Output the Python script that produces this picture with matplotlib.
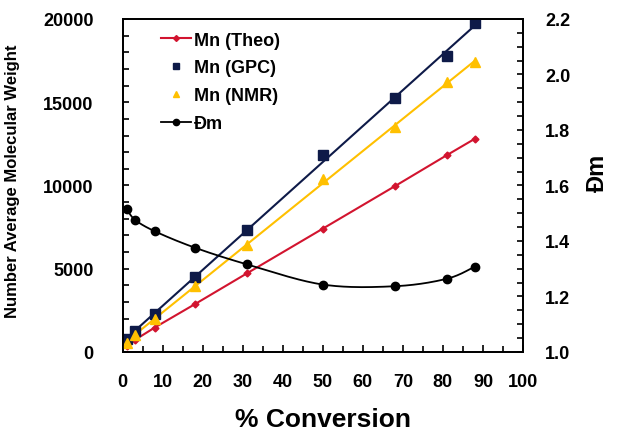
import matplotlib
matplotlib.use("Agg")
import matplotlib.pyplot as plt
from matplotlib.ticker import MultipleLocator
from matplotlib.lines import Line2D
import numpy as np

plt.rcParams['font.family'] = ['Liberation Sans', 'DejaVu Sans']
plt.rcParams['font.weight'] = 'bold'

conversion = [1, 3, 8, 18, 31, 50, 68, 81, 88]
mn_theo = [380, 720, 1470, 2870, 4720, 7410, 9960, 11825, 12810]
mn_gpc = [765, 1265, 2270, 4520, 7310, 11825, 15240, 17750, 19760]
mn_nmr = [560, 1020, 2010, 3980, 6400, 10420, 13510, 16190, 17390]
dm = [1.516, 1.477, 1.435, 1.376, 1.316, 1.243, 1.237, 1.264, 1.308]

RED = '#D2142F'
NAVY = '#0E1A48'
GOLD = '#FFC000'

fig = plt.figure(figsize=(6.2, 4.31), dpi=100)
ax = fig.add_axes([0.198, 0.181, 0.6455, 0.7726])
ax2 = ax.twinx()

x = np.array(conversion, dtype=float)

# Theo: connected points
ax.plot(x, mn_theo, color=RED, lw=1.5, marker='D', ms=3.5, zorder=3)

# GPC and NMR: markers with linear trendlines
for vals, col, mk, ms in [(mn_gpc, NAVY, 's', 6.5), (mn_nmr, GOLD, '^', 7)]:
    k, b = np.polyfit(x, vals, 1)
    xs = np.array([x[0], x[-1]])
    ax.plot(xs, k * xs + b, color=col, lw=1.5, zorder=2)
    ax.plot(x, vals, ls='none', color=col, marker=mk, ms=ms, zorder=4)

# Dm: smoothed line (spreadsheet-style smoothing)
y = np.array(dm, dtype=float)
px = np.concatenate([[x[0]], x, [x[-1]]])
py = np.concatenate([[y[0]], y, [y[-1]]])
cx, cy = [], []
t = np.linspace(0, 1, 30)
for i in range(1, len(px) - 2):
    p0 = np.array([px[i], py[i]])
    p3 = np.array([px[i + 1], py[i + 1]])
    p1 = p0 + (np.array([px[i + 1], py[i + 1]]) - np.array([px[i - 1], py[i - 1]])) / 6
    p2 = p3 - (np.array([px[i + 2], py[i + 2]]) - np.array([px[i], py[i]])) / 6
    pts = ((1 - t) ** 3)[:, None] * p0 + (3 * (1 - t) ** 2 * t)[:, None] * p1 + \
          (3 * (1 - t) * t ** 2)[:, None] * p2 + (t ** 3)[:, None] * p3
    cx.extend(pts[:, 0])
    cy.extend(pts[:, 1])
ax2.plot(cx, cy, color='black', lw=1.3, zorder=3)
ax2.plot(x, y, ls='none', color='black', marker='o', ms=6, zorder=4)

ax.set_xlim(0, 100)
ax.set_ylim(0, 20000)
ax2.set_ylim(1.0, 2.2)

ax.xaxis.set_major_locator(MultipleLocator(10))
ax.xaxis.set_minor_locator(MultipleLocator(5))
ax.yaxis.set_major_locator(MultipleLocator(5000))
ax.yaxis.set_minor_locator(MultipleLocator(1000))
ax2.set_yticks([1.0, 1.2, 1.4, 1.6, 1.8, 2.0, 2.2])
ax2.set_yticklabels(['1.0', '1.2', '1.4', '1.6', '1.8', '2.0', '2.2'])
ax2.yaxis.set_minor_locator(MultipleLocator(0.05))

ax.tick_params(axis='x', which='both', direction='in', top=False, labelsize=13, pad=15)
ax.tick_params(axis='x', which='major', length=5, width=1.2)
ax.tick_params(axis='x', which='minor', length=4, width=1.2)
ax.tick_params(axis='y', which='both', direction='in', right=False, labelsize=13, pad=21)
ax.tick_params(axis='y', which='both', length=4.5, width=1.2)
ax2.tick_params(axis='y', which='both', direction='in', labelsize=13, pad=16, length=4.5, width=1.2)

for a in (ax, ax2):
    for s in a.spines.values():
        s.set_linewidth(1.3)
        s.set_color('black')

ax.set_xlabel('% Conversion', fontsize=19, fontweight='bold')
ax.xaxis.set_label_coords(0.5, -0.165)
ax.set_ylabel('Number Average Molecular Weight', fontsize=12, fontweight='bold')
ax.yaxis.set_label_coords(-0.2575, 0.515)
ax2.set_ylabel('Đm', fontsize=17, fontweight='bold', rotation=90)
ax2.yaxis.set_label_coords(1.158, 0.54)

handles = [
    Line2D([], [], color=RED, lw=1.5, marker='D', ms=3),
    Line2D([], [], ls='none', color=NAVY, marker='s', ms=4.5),
    Line2D([], [], ls='none', color=GOLD, marker='^', ms=5),
    Line2D([], [], color='black', lw=1.3, marker='o', ms=4.5),
]
labels = ['Mn (Theo)', 'Mn (GPC)', 'Mn (NMR)', 'Đm']
ax.legend(handles, labels, loc='upper left', frameon=False, fontsize=13,
          handlelength=1.65, handletextpad=0.15, labelspacing=0.6,
          borderaxespad=0.3, bbox_to_anchor=(0.065, 1.0))

fig.savefig('out.png', dpi=100, facecolor='white')
